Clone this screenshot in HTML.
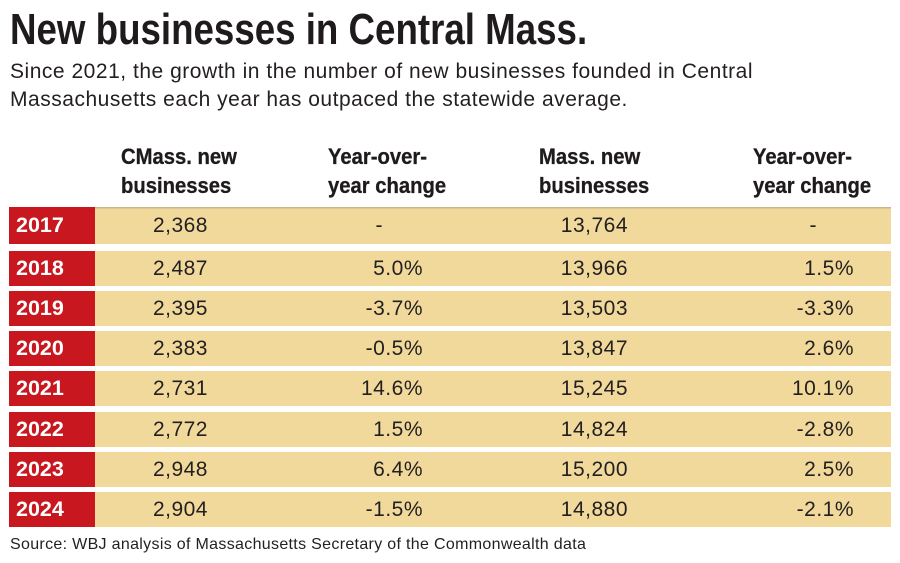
<!DOCTYPE html>
<html>
<head>
<meta charset="utf-8">
<style>
  html, body { margin:0; padding:0; }
  body { width:900px; height:563px; background:#ffffff; position:relative; overflow:hidden;
         font-family:"Liberation Sans", Arial, sans-serif; color:#231f20; }
  .abs { position:absolute; white-space:nowrap; }
  .title { left:10px; top:8px; font-size:44px; line-height:44px; font-weight:bold;
           transform:scaleX(0.834); transform-origin:0 0; color:#1f1b1c; }
  .sub { left:10px; top:58px; font-size:21px; line-height:27.7px; letter-spacing:0.52px; color:#231f20; }
  .hdr { font-size:22px; line-height:29px; font-weight:bold; top:142px;
         transform:scaleX(0.92); transform-origin:0 0; color:#1f1b1c; -webkit-text-stroke:0.3px #1f1b1c; }
  .red { position:absolute; left:9px; width:86px; background:#c8171e; }
  .tan { position:absolute; left:95px; width:796px; background:#f1d99b; }
  .yr { position:absolute; left:16px; color:#fff; font-weight:bold; font-size:21.5px; }
  .num { position:absolute; font-size:21px; letter-spacing:0.5px; text-align:right; }
  .dash { position:absolute; font-size:21px; text-align:center; width:20px; }
  .src { left:10px; top:536px; font-size:16px; line-height:18px; letter-spacing:0.32px; color:#231f20; }
</style>
</head>
<body>
<div class="abs title">New businesses in Central Mass.</div>
<div class="abs sub">Since 2021, the growth in the number of new businesses founded in Central<br>Massachusetts each year has outpaced the statewide average.</div>

<div class="abs hdr" style="left:121px;">CMass. new<br>businesses</div>
<div class="abs hdr" style="left:328px;">Year-over-<br>year change</div>
<div class="abs hdr" style="left:539px;">Mass. new<br>businesses</div>
<div class="abs hdr" style="left:753px;">Year-over-<br>year change</div>

<!-- 2017 -->
<div class="red" style="top:207px;height:37px;"></div>
<div class="tan" style="top:207px;height:37px;box-shadow:inset 0 1.5px 0 #c7b68c;"></div>
<div class="yr" style="top:207px;line-height:37px;">2017</div>
<div class="num" style="top:207px;line-height:37px;right:692px;">2,368</div>
<div class="dash" style="top:207px;line-height:37px;left:369px;">-</div>
<div class="num" style="top:207px;line-height:37px;right:272px;">13,764</div>
<div class="dash" style="top:207px;line-height:37px;left:803px;">-</div>

<!-- 2018 -->
<div class="red" style="top:250.7px;height:35px;"></div>
<div class="tan" style="top:250.7px;height:35px;"></div>
<div class="yr" style="top:250.7px;line-height:35px;">2018</div>
<div class="num" style="top:250.7px;line-height:35px;right:692px;">2,487</div>
<div class="num" style="top:250.7px;line-height:35px;right:477px;">5.0%</div>
<div class="num" style="top:250.7px;line-height:35px;right:272px;">13,966</div>
<div class="num" style="top:250.7px;line-height:35px;right:46px;">1.5%</div>

<!-- 2019 -->
<div class="red" style="top:290.9px;height:35px;"></div>
<div class="tan" style="top:290.9px;height:35px;"></div>
<div class="yr" style="top:290.9px;line-height:35px;">2019</div>
<div class="num" style="top:290.9px;line-height:35px;right:692px;">2,395</div>
<div class="num" style="top:290.9px;line-height:35px;right:477px;">-3.7%</div>
<div class="num" style="top:290.9px;line-height:35px;right:272px;">13,503</div>
<div class="num" style="top:290.9px;line-height:35px;right:46px;">-3.3%</div>

<!-- 2020 -->
<div class="red" style="top:331.1px;height:35px;"></div>
<div class="tan" style="top:331.1px;height:35px;"></div>
<div class="yr" style="top:331.1px;line-height:35px;">2020</div>
<div class="num" style="top:331.1px;line-height:35px;right:692px;">2,383</div>
<div class="num" style="top:331.1px;line-height:35px;right:477px;">-0.5%</div>
<div class="num" style="top:331.1px;line-height:35px;right:272px;">13,847</div>
<div class="num" style="top:331.1px;line-height:35px;right:46px;">2.6%</div>

<!-- 2021 -->
<div class="red" style="top:371.3px;height:35px;"></div>
<div class="tan" style="top:371.3px;height:35px;"></div>
<div class="yr" style="top:371.3px;line-height:35px;">2021</div>
<div class="num" style="top:371.3px;line-height:35px;right:692px;">2,731</div>
<div class="num" style="top:371.3px;line-height:35px;right:477px;">14.6%</div>
<div class="num" style="top:371.3px;line-height:35px;right:272px;">15,245</div>
<div class="num" style="top:371.3px;line-height:35px;right:46px;">10.1%</div>

<!-- 2022 -->
<div class="red" style="top:411.5px;height:35px;"></div>
<div class="tan" style="top:411.5px;height:35px;"></div>
<div class="yr" style="top:411.5px;line-height:35px;">2022</div>
<div class="num" style="top:411.5px;line-height:35px;right:692px;">2,772</div>
<div class="num" style="top:411.5px;line-height:35px;right:477px;">1.5%</div>
<div class="num" style="top:411.5px;line-height:35px;right:272px;">14,824</div>
<div class="num" style="top:411.5px;line-height:35px;right:46px;">-2.8%</div>

<!-- 2023 -->
<div class="red" style="top:451.7px;height:35px;"></div>
<div class="tan" style="top:451.7px;height:35px;"></div>
<div class="yr" style="top:451.7px;line-height:35px;">2023</div>
<div class="num" style="top:451.7px;line-height:35px;right:692px;">2,948</div>
<div class="num" style="top:451.7px;line-height:35px;right:477px;">6.4%</div>
<div class="num" style="top:451.7px;line-height:35px;right:272px;">15,200</div>
<div class="num" style="top:451.7px;line-height:35px;right:46px;">2.5%</div>

<!-- 2024 -->
<div class="red" style="top:491.9px;height:35.5px;"></div>
<div class="tan" style="top:491.9px;height:35.5px;"></div>
<div class="yr" style="top:491.9px;line-height:35.5px;">2024</div>
<div class="num" style="top:491.9px;line-height:35.5px;right:692px;">2,904</div>
<div class="num" style="top:491.9px;line-height:35.5px;right:477px;">-1.5%</div>
<div class="num" style="top:491.9px;line-height:35.5px;right:272px;">14,880</div>
<div class="num" style="top:491.9px;line-height:35.5px;right:46px;">-2.1%</div>

<div class="abs src">Source: WBJ analysis of Massachusetts Secretary of the Commonwealth data</div>
</body>
</html>
